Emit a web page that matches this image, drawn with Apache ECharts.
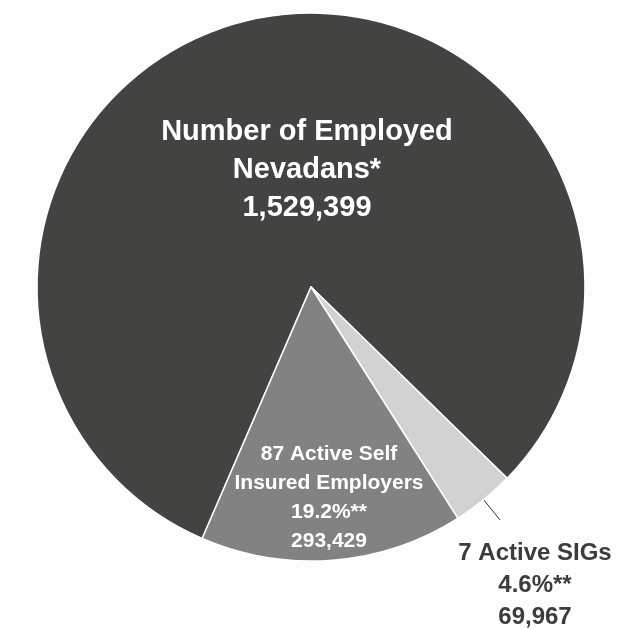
<!DOCTYPE html>
<html>
<head>
<meta charset="utf-8">
<script src="https://cdn.jsdelivr.net/npm/echarts@6/dist/echarts.min.js"></script>
<style>
  html, body { margin: 0; padding: 0; background: #fdfdfd; }
  #chart { width: 640px; height: 629px; }
</style>
</head>
<body>
<div id="chart"></div>
<script>
// slice data, in drawing order (clockwise)
const categories = ['Number of Employed Nevadans*', '7 Active SIGs', '87 Active Self Insured Employers']
const values = [1529399, 69967, 293429]
const valueLabels = ['1,529,399', '69,967', '293,429']
const shareLabels = ['', '4.6%**', '19.2%**']
const labelLines = [
  ['Number of Employed', 'Nevadans*'],
  ['7 Active SIGs'],
  ['87 Active Self', 'Insured Employers']
]

const colors = ['#434341', '#d2d2d2', '#828282']
const font = '"Liberation Sans", Arial, sans-serif'

const chart = echarts.init(document.getElementById('chart'))

// where each label block is centred
const labelSpots = [
  { x: 307, y: 170 },
  { x: 535, y: 585 },
  { x: 329, y: 498 }
]

const labelStyles = [
  { position: 'inside', color: '#ffffff', fontSize: 29, lineHeight: 38 },
  { position: 'outside', color: '#3c3c3c', fontSize: 24, lineHeight: 32 },
  { position: 'inside', color: '#ffffff', fontSize: 21, lineHeight: 29 }
]

const seriesData = categories.map((name, i) => ({
  name: name,
  value: values[i],
  itemStyle: { color: colors[i] },
  label: Object.assign({
    show: true,
    fontFamily: font,
    fontWeight: 'bold',
    align: 'center',
    formatter: () => labelLines[i].concat(shareLabels[i] ? [shareLabels[i]] : [], [valueLabels[i]]).join('\n')
  }, labelStyles[i]),
  labelLine: { show: i === 1, length: 26, length2: 0, lineStyle: { color: '#333', width: 1 } }
}))

const option = {
  backgroundColor: '#fdfdfd',
  animation: false,
  series: [
    {
      type: 'pie',
      center: [311, 287],
      radius: 274,
      startAngle: 246.6,
      clockwise: true,
      avoidLabelOverlap: false,
      itemStyle: { borderColor: '#ffffff', borderWidth: 1.5 },
      emphasis: { disabled: true },
      data: seriesData,
      labelLayout: (params) => {
        const spot = labelSpots[params.dataIndex]
        const out = { x: spot.x, y: spot.y, align: 'center', verticalAlign: 'middle' }
        if (params.labelLinePoints) out.labelLinePoints = params.labelLinePoints
        return out
      }
    }
  ]
}

chart.setOption(option)
window.addEventListener('resize', () => chart.resize())
</script>
</body>
</html>
